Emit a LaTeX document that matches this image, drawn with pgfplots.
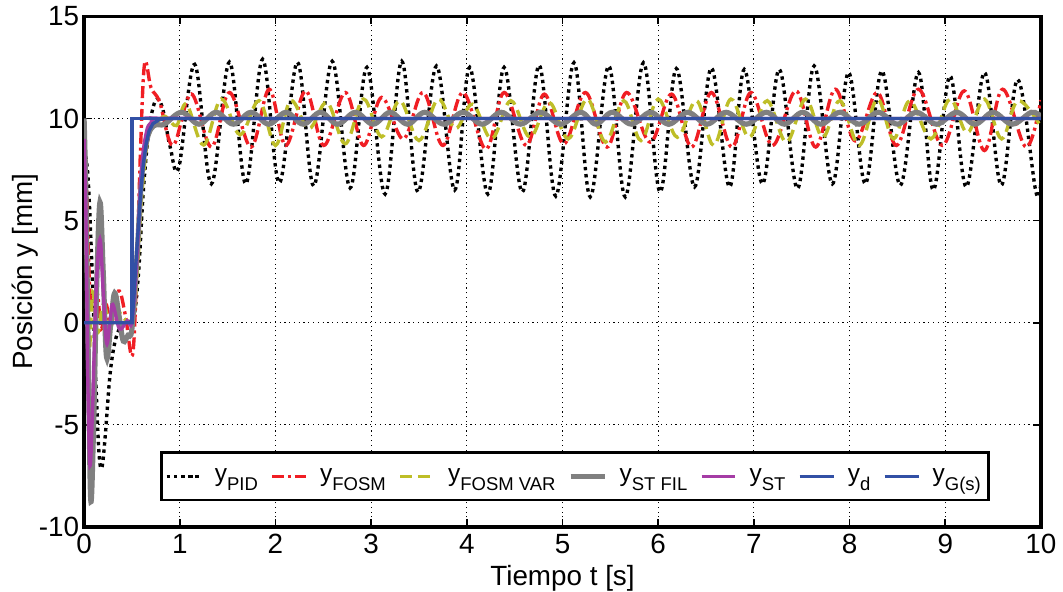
\documentclass[border=0pt]{standalone}
\usepackage{fontspec}
\setmainfont{Liberation Sans}
\usepackage{pgfplots}
\pgfplotsset{compat=1.18}
\definecolor{cred}{RGB}{240,30,36}
\definecolor{cyel}{RGB}{190,190,40}
\definecolor{cgray}{RGB}{128,128,128}
\definecolor{cpur}{RGB}{165,60,165}
\definecolor{cblue}{RGB}{50,80,165}
\newcommand{\sub}[1]{\raisebox{-4.5pt}{\fontsize{9.3}{10}\selectfont #1}}
\begin{document}
\begin{tikzpicture}
\begin{axis}[
  scale only axis, width=481.5pt, height=257pt,
  xmin=0, xmax=10, ymin=-10, ymax=15,
  xtick={0,1,...,10}, ytick={-10,-5,...,15},
  grid=major,
  major grid style={black, line width=0.6pt, dash pattern=on 0.6pt off 1.8pt},
  axis line style={line width=1.6pt},
  tick style={black, line width=0.8pt}, tick align=inside, major tick length=4pt,
  ticklabel style={font=\fontsize{14}{16}\selectfont},
  yticklabel style={xshift=1pt},
  /pgf/number format/assume math mode=true,
  xlabel={Tiempo t [s]}, ylabel={Posición y [mm]},
  label style={font=\fontsize{14}{16}\selectfont},
  xlabel style={inner sep=0pt, yshift=-2.3pt},
  ylabel style={inner xsep=0pt, inner ysep=6pt, yshift=-9.2pt},
  legend columns=7,
  legend style={at={(0.513,0.05)}, anchor=south, draw=black, line width=1.5pt,
    font=\fontsize{12.3}{14}\selectfont, column sep=4.3pt, inner xsep=2pt, inner ysep=5.9pt},
  legend cell align=left,
]
% y_PID
\addplot[black, line width=1.7pt, dash pattern=on 1.7pt off 1.9pt, smooth, tension=0.6] coordinates {
(0,8.5)(0.04,7.2)(0.08,3)(0.12,-2.5)(0.155,-6.3)(0.185,-7.1)(0.22,-5.6)(0.27,-2.6)(0.32,-1.0)(0.38,-0.2)(0.45,0.05)(0.52,0.3)(0.57,2.5)(0.62,6.5)(0.68,9.5)(0.75,10.9)(0.82,10.5)(0.9,8.6)(0.99,7.6)
(1.156,12.65)(1.33,6.8)(1.519,12.76)(1.69,6.8)(1.866,12.9)(2.04,6.85)(2.23,12.75)(2.40,6.7)(2.593,12.8)(2.78,6.6)
(2.956,12.5)(3.146,6.3)(3.32,12.8)(3.49,6.4)(3.683,12.57)(3.873,6.5)(4.03,12.5)(4.22,6.3)(4.39,12.5)(4.58,6.4)
(4.756,12.6)(4.93,6.2)(5.12,12.73)(5.29,6.16)(5.483,12.57)(5.656,6.16)(5.846,12.73)(6.02,6.4)(6.19,12.44)(6.38,6.65)
(6.556,12.47)(6.746,6.65)(6.9,12.4)(7.09,6.8)(7.266,12.4)(7.456,6.57)(7.63,12.57)(7.82,6.8)(7.99,12.25)(8.165,6.8)
(8.338,12.33)(8.53,6.73)(8.72,12.25)(8.875,6.5)(9.05,12.08)(9.22,6.65)(9.41,12.25)(9.585,6.73)(9.758,11.9)(9.948,6.4)(10,7.0)
};
\addlegendentry{y\sub{PID}}
% y_FOSM
\addplot[cred, line width=1.7pt, dash pattern=on 6pt off 2pt on 1.5pt off 2pt, smooth, tension=0.6] coordinates {
(0,9.5)(0.03,6)(0.06,1.5)(0.1,0.8)(0.14,1.4)(0.18,-0.3)(0.23,0.9)(0.28,-0.2)(0.36,1.55)(0.43,0.4)(0.505,-1.6)(0.55,2.5)(0.59,8.5)(0.633,12.7)(0.7,11.5)(0.79,10.8)
(0.93,8.68)(1.12,11.2)(1.33,8.6)(1.52,11.27)(1.745,8.6)(1.935,11.43)(2.108,8.68)(2.316,11.35)(2.506,8.68)(2.73,11.27)
(2.92,8.68)(3.11,11.03)(3.336,9.0)(3.544,11.27)(3.75,8.68)(3.96,11.27)(4.2,8.5)(4.39,11.27)(4.62,8.68)(4.81,11.19)
(5.015,8.76)(5.24,11.27)(5.465,8.6)(5.67,11.27)(5.916,8.84)(6.14,11.19)(6.35,8.6)(6.556,11.27)(6.77,8.6)(6.97,11.27)
(7.196,8.68)(7.44,11.35)(7.646,8.6)(7.85,11.43)(8.06,8.9)(8.29,11.27)(8.49,8.68)(8.72,11.43)(8.97,8.68)(9.2,11.35)
(9.41,8.43)(9.6,11.43)(9.844,8.6)(10,10.9)
};
\addlegendentry{y\sub{FOSM}}
% y_FOSM VAR
\addplot[cyel, line width=1.7pt, dash pattern=on 6pt off 3pt, smooth, tension=0.6] coordinates {
(0,6)(0.02,4)(0.05,-1.5)(0.09,1.5)(0.14,-0.5)(0.2,0.9)(0.27,0)(0.33,0.8)(0.4,0.3)(0.5,0.1)(0.55,2)(0.6,6)(0.65,8.5)(0.7,9.5)(0.76,9.8)(0.85,10.1)(0.966,9.65)
(1.07,10.7)(1.25,8.7)(1.433,10.95)(1.63,9.2)(1.83,10.87)(2.0,8.68)(2.16,10.87)(2.35,9.5)(2.54,10.79)(2.73,8.76)
(2.92,10.95)(3.11,9.1)(3.30,10.87)(3.5,8.92)(3.70,10.95)(3.88,9.5)(4.06,10.7)(4.26,9.0)(4.46,10.87)(4.66,9.08)
(4.86,10.79)(5.06,9.0)(5.26,10.95)(5.45,8.84)(5.64,10.87)(5.82,8.92)(6.0,10.95)(6.2,9.08)(6.4,10.87)(6.58,8.68)
(6.76,10.95)(6.95,9.08)(7.14,10.87)(7.34,8.84)(7.54,10.95)(7.72,9.08)(7.9,10.87)(8.1,8.68)(8.29,10.95)(8.46,9.0)
(8.63,10.87)(8.85,9.0)(9.05,10.95)(9.23,9.3)(9.41,10.95)(9.59,9.0)(9.76,10.87)(10,9.6)
};
\addlegendentry{y\sub{FOSM VAR}}
% y_ST FIL
\addplot[cgray, line width=2.6pt, smooth, tension=0.6] coordinates {
(0,10)(0.02,6)(0.045,-2)(0.07,-8.7)(0.1,-5)(0.13,1.5)(0.166,5.9)(0.2,2.5)(0.235,-1.7)(0.28,0)(0.32,1.46)(0.37,0.2)(0.41,-0.9)(0.46,-0.6)(0.5,-0.3)
(0.55,3)(0.6,7)(0.65,8.8)(0.7,9.5)(0.76,9.7)(0.84,9.72)
(1.02,10.3)(1.2,9.72)(1.38,10.3)(1.56,9.72)(1.745,10.3)(1.93,9.72)(2.11,10.3)(2.29,9.72)(2.47,10.3)(2.65,9.72)
(2.835,10.3)(3.02,9.72)(3.2,10.3)(3.38,9.72)(3.56,10.3)(3.76,9.72)(3.96,10.3)(4.16,9.72)(4.36,10.3)(4.56,9.72)
(4.77,10.3)(4.98,9.72)(5.19,10.3)(5.35,9.72)(5.52,10.3)(5.72,9.72)(5.92,10.3)(6.11,9.72)(6.31,10.3)(6.51,9.72)
(6.71,10.3)(6.92,9.72)(7.13,10.3)(7.32,9.72)(7.51,10.3)(7.7,9.72)(7.9,10.3)(8.1,9.72)(8.3,10.3)(8.5,9.72)
(8.7,10.3)(8.91,9.72)(9.12,10.3)(9.31,9.72)(9.5,10.3)(9.7,9.72)(9.9,10.3)(10,10.1)
};
\addlegendentry{y\sub{ST FIL}}
% y_ST
\addplot[cpur, line width=1.7pt, smooth, tension=0.6] coordinates {
(0,9)(0.02,5)(0.04,-3)(0.062,-7)(0.09,-4)(0.125,1.5)(0.166,4.1)(0.2,1.5)(0.235,-1.0)(0.27,0)(0.3,0.9)(0.37,-0.3)(0.45,0.1)(0.5,0.05)
(0.55,3)(0.6,7.5)(0.65,9.3)(0.7,9.8)(0.8,10)(1.5,10)(10,10)
};
\addlegendentry{y\sub{ST}}
% y_d
\addplot[cblue, line width=1.7pt] coordinates {(0,0)(0.5,0)(0.5,10)(10,10)};
\addlegendentry{y\sub{d}}
% y_G(s)
\addplot[cblue, line width=1.7pt] coordinates {
(0,0)(0.5,0)(0.52,1.2)(0.54,2.8)(0.56,4.2)(0.58,5.6)(0.6,6.8)(0.62,7.8)(0.65,8.8)(0.68,9.4)(0.72,9.75)(0.78,9.93)(0.85,10)(10,10)
};
\addlegendentry{y\sub{G(s)}}
\end{axis}
\end{tikzpicture}
\end{document}
